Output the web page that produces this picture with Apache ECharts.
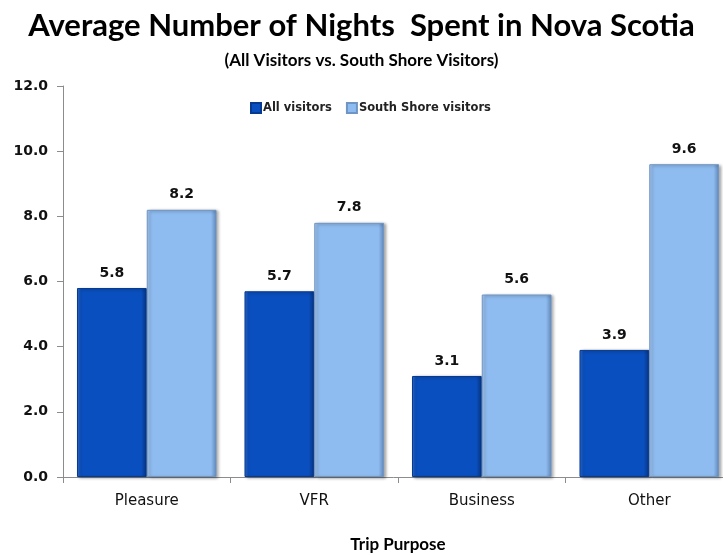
<!DOCTYPE html>
<html>
<head>
<meta charset="utf-8">
<script src="https://cdn.jsdelivr.net/npm/echarts@6/dist/echarts.min.js"></script>
<style>
  html, body { margin: 0; padding: 0; background: #ffffff; overflow: hidden; }
  #chart { width: 723px; height: 555px; }
</style>
</head>
<body>
<div id="chart"></div>
<script>
// Trip purposes and average nights per group
const categories = ['Pleasure', 'VFR', 'Business', 'Other'];
const allVisitors = [5.8, 5.7, 3.1, 3.9];
const southShoreVisitors = [8.2, 7.8, 5.6, 9.6];
const yTicks = { min: 0, max: 12, interval: 2 };

const labelFont = '"DejaVu Sans", Verdana, sans-serif';

function bevel(light, mid, dark) {
  return {
    type: 'linear', x: 0, y: 0, x2: 1, y2: 0,
    colorStops: [
      { offset: 0, color: light },
      { offset: 0.06, color: mid },
      { offset: 0.92, color: mid },
      { offset: 1, color: dark }
    ]
  };
}

const chart = echarts.init(document.getElementById('chart'), null, { renderer: 'canvas' });

chart.setOption({
  animation: false,
  backgroundColor: '#ffffff',
  title: [
    {
      text: 'Average Number of Nights  Spent in Nova Scotia',
      left: 'center',
      top: 5,
      textStyle: { fontFamily: 'Lato, sans-serif', fontWeight: 'bold', fontSize: 31, color: '#000' }
    },
    {
      text: '(All Visitors vs. South Shore Visitors)',
      left: 'center',
      top: 47,
      textStyle: { fontFamily: 'Lato, sans-serif', fontWeight: 'bold', fontSize: 17, color: '#000' }
    }
  ],
  legend: {
    top: 97,
    left: 245,
    itemWidth: 10,
    itemHeight: 10,
    itemGap: 14,
    icon: 'rect',
    textStyle: { fontFamily: labelFont, fontWeight: 'bold', fontSize: 11.5, color: '#222', padding: [0, 0, 0, -3] },
    data: ['All visitors', 'South Shore visitors']
  },
  grid: { left: 63, top: 86, width: 670, height: 391, outerBoundsMode: 'none', containLabel: false },
  xAxis: {
    type: 'category',
    data: categories,
    name: 'Trip Purpose',
    nameLocation: 'middle',
    nameGap: 59,
    nameTextStyle: { fontFamily: 'Lato, sans-serif', fontWeight: 'bold', fontSize: 17, color: '#000' },
    axisLine: { lineStyle: { color: '#8c8c8c', width: 1 } },
    axisTick: { show: true, length: 6, lineStyle: { color: '#8c8c8c' } },
    axisLabel: { margin: 17, fontFamily: labelFont, fontSize: 15, color: '#111' }
  },
  yAxis: {
    type: 'value',
    min: yTicks.min,
    max: yTicks.max,
    interval: yTicks.interval,
    axisLine: { show: true, lineStyle: { color: '#8c8c8c', width: 1 } },
    axisTick: { show: true, length: 6, lineStyle: { color: '#8c8c8c' } },
    splitLine: { show: false },
    axisLabel: {
      margin: 15,
      fontFamily: labelFont, fontWeight: 'bold', fontSize: 14, color: '#111',
      formatter: v => v.toFixed(1)
    }
  },
  series: [
    {
      name: 'All visitors',
      type: 'bar',
      data: allVisitors,
      barGap: '0%',
      barCategoryGap: '16.7%',
      itemStyle: {
        color: bevel('#2f6fd6', '#0a4fbf', '#06337f'),
        borderColor: '#063a8e',
        borderWidth: 1,
        shadowColor: 'rgba(0,0,0,0.35)',
        shadowBlur: 3,
        shadowOffsetX: 2,
        shadowOffsetY: 1
      },
      label: {
        show: true, position: 'top', distance: 8,
        fontFamily: labelFont, fontWeight: 'bold', fontSize: 14, color: '#111',
        formatter: p => p.value.toFixed(1)
      }
    },
    {
      name: 'South Shore visitors',
      type: 'bar',
      data: southShoreVisitors,
      itemStyle: {
        color: bevel('#a9cdf6', '#8fbcf0', '#5f86b8'),
        borderColor: '#6f95c4',
        borderWidth: 1,
        shadowColor: 'rgba(0,0,0,0.35)',
        shadowBlur: 3,
        shadowOffsetX: 2,
        shadowOffsetY: 1
      },
      label: {
        show: true, position: 'top', distance: 8,
        fontFamily: labelFont, fontWeight: 'bold', fontSize: 14, color: '#111',
        formatter: p => p.value.toFixed(1)
      }
    }
  ]
});
</script>
</body>
</html>
